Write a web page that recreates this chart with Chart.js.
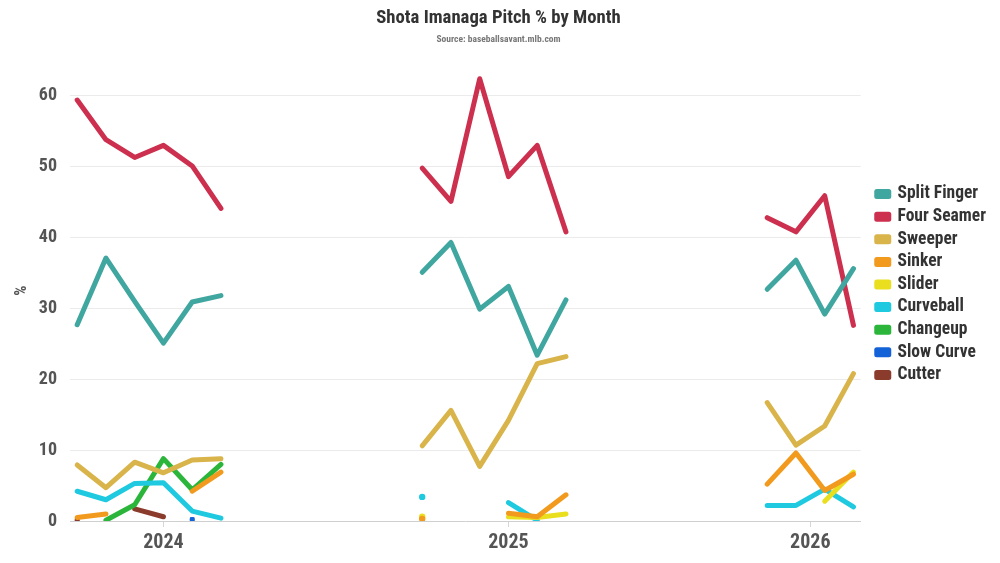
<!DOCTYPE html>
<html>
<head>
<meta charset="utf-8">
<script src="https://cdn.jsdelivr.net/npm/chart.js@4/dist/chart.umd.min.js"></script>
<style>
  html, body { margin: 0; padding: 0; background: #fff; }
  #wrap { width: 1000px; height: 563px; position: relative; }
</style>
</head>
<body>
<div id="wrap"><canvas id="grafico"></canvas></div>
<script>
// months with data (off-season months are simply absent)
const months = [
  '2024-04', '2024-05', '2024-06', '2024-07', '2024-08', '2024-09',
  '2025-04', '2025-05', '2025-06', '2025-07', '2025-08', '2025-09',
  '2026-04', '2026-05', '2026-06', '2026-07'
];

const splitFinger = [27.7, 37.1, 31.0, 25.1, 30.9, 31.8,  35.1, 39.3, 29.9, 33.1, 23.4, 31.2,  32.7, 36.8, 29.2, 35.6];
const fourSeamer  = [59.4, 53.8, 51.3, 53.0, 50.1, 44.1,  49.8, 45.1, 62.4, 48.6, 53.0, 40.8,  42.8, 40.8, 45.9, 27.6];
const sweeper     = [7.9, 4.7, 8.3, 6.8, 8.6, 8.8,        10.6, 15.6, 7.7, 14.2, 22.2, 23.2,    16.7, 10.7, 13.4, 20.8];
const sinker      = [0.5, 1.0, null, null, 4.2, 6.9,      0.3, null, null, 1.1, 0.6, 3.7,       5.2, 9.6, 4.3, 6.6];
const slider      = [null, null, null, null, null, null,  0.6, null, null, 0.6, 0.5, 1.0,       null, null, 2.8, 6.9];
const curveball   = [4.2, 3.0, 5.3, 5.4, 1.4, 0.4,        3.4, null, null, 2.6, 0.1, null,      2.2, 2.2, 4.5, 2.0];
const changeup    = [null, 0.1, 2.3, 8.8, 4.4, 8.0,       null, null, null, null, null, null,   null, null, null, null];
const slowCurve   = [null, null, null, null, 0.2, null,   null, null, null, null, null, null,   null, null, null, null];
const cutter      = [0.2, null, 1.7, 0.6, null, null,     null, null, null, null, null, null,   null, null, null, null];

const yearLabels = ['2024', '2025', '2026'];
const yearTickAt = [3, 15, 25.5];   // month index where each year label sits

const FONT = "'Roboto Condensed', 'Liberation Sans Narrow', Roboto, sans-serif";

// month string -> running month index (April 2024 = 0)
const mesIndice = m => {
  const [a, mm] = m.split('-').map(Number);
  return (a - 2024) * 12 + (mm - 4);
};
const idx = months.map(mesIndice);

const serie = (label, valores, color) => {
  const data = [];
  valores.forEach((v, i) => {
    // break the line over the off-season
    if (i > 0 && idx[i] - idx[i - 1] > 1) data.push({ x: (idx[i] + idx[i - 1]) / 2, y: null });
    data.push({ x: idx[i], y: v });
  });
  const hayVecino = (i, d) => {
    const j = i + d;
    return j >= 0 && j < valores.length && Math.abs(idx[j] - idx[i]) === 1 && valores[j] != null;
  };
  const aislado = data.map(p => {
    const i = idx.indexOf(p.x);
    return i >= 0 && valores[i] != null && !hayVecino(i, -1) && !hayVecino(i, 1);
  });
  return {
    label,
    data,
    borderColor: color,
    backgroundColor: color,
    borderWidth: 5,
    borderCapStyle: 'round',
    borderJoinStyle: 'round',
    pointRadius: c => aislado[c.dataIndex] ? 3.2 : 0,
    pointHoverRadius: 0,
    pointBorderWidth: 0,
    pointStyle: label === 'Slow Curve' ? 'rect' : (label === 'Cutter' ? 'triangle' : 'circle'),
    spanGaps: false,
    tension: 0
  };
};

// push the legend a little to the right of the plot, like the original
const legendGap = {
  id: 'legendGap',
  afterLayout(chart) {
    chart.legend.left += 11;
    chart.legend.right += 11;
    chart.legend.top += 5;
    chart.legend.bottom += 5;
  }
};

const ctx = document.getElementById('grafico').getContext('2d');
new Chart(ctx, {
  type: 'line',
  data: {
    datasets: [
      serie('Split Finger', splitFinger, '#40a6a0'),
      serie('Four Seamer', fourSeamer, '#cc304e'),
      serie('Sweeper', sweeper, '#d9b44a'),
      serie('Sinker', sinker, '#f29a1e'),
      serie('Slider', slider, '#e9df1f'),
      serie('Curveball', curveball, '#1fc9df'),
      serie('Changeup', changeup, '#2bb63b'),
      serie('Slow Curve', slowCurve, '#1462d8'),
      serie('Cutter', cutter, '#8a3b2b')
    ]
  },
  plugins: [legendGap],
  options: {
    responsive: true,
    maintainAspectRatio: false,
    animation: false,
    layout: { padding: { left: 12, right: 15, top: 0, bottom: 4 } },
    plugins: {
      title: {
        display: true,
        text: 'Shota Imanaga Pitch % by Month',
        color: '#333',
        font: { family: FONT, size: 18.7, weight: 'bold' },
        padding: { top: 7.5, bottom: 4 }
      },
      subtitle: {
        display: true,
        text: 'Source: baseballsavant.mlb.com',
        color: '#777',
        font: { family: FONT, size: 9.5, weight: 'bold' },
        padding: { top: 0, bottom: 15 }
      },
      legend: {
        position: 'right',
        align: 'center',
        labels: {
          boxWidth: 12,
          boxHeight: 5,
          padding: 5.1,
          color: '#333',
          font: { family: FONT, size: 17.5, weight: 'bold' }
        }
      },
      tooltip: { enabled: false }
    },
    scales: {
      x: {
        type: 'linear',
        min: -0.25,
        max: 27.25,
        afterBuildTicks: axis => {
          axis.ticks = yearTickAt.map(v => ({ value: v }));
        },
        ticks: {
          autoSkip: false,
          maxRotation: 0,
          color: '#555',
          padding: 4,
          font: { family: FONT, size: 20, weight: 'bold' },
          callback: (v, i) => yearLabels[i]
        },
        grid: {
          drawOnChartArea: false,
          drawTicks: true,
          tickLength: 6,
          color: '#d6d6d6'
        },
        border: { display: true, color: '#cfcfcf', width: 1 }
      },
      y: {
        min: 0,
        max: 65,
        afterBuildTicks: axis => {
          axis.ticks = axis.ticks.filter(t => t.value % 10 === 0);
        },
        afterFit: scale => { scale.width = 58; },
        ticks: {
          stepSize: 10,
          color: '#555',
          padding: 13,
          font: { family: FONT, size: 18, weight: 'bold' }
        },
        grid: {
          color: c => c.tick && c.tick.value === 0 ? 'rgba(0,0,0,0)' : '#ebebeb',
          drawTicks: false
        },
        border: { display: false },
        title: {
          display: true,
          text: '%',
          color: '#555',
          font: { family: FONT, size: 16, weight: 'bold' },
          padding: { top: 0, bottom: 10 }
        }
      }
    }
  }
});
</script>
</body>
</html>
